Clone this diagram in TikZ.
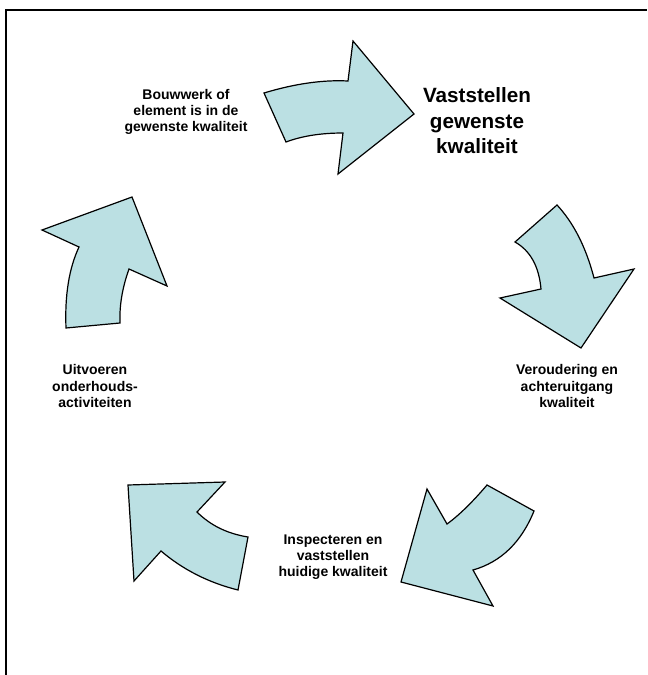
\documentclass[tikz,border=0pt]{standalone}
\usepackage{fontspec}
\setmainfont{Liberation Sans}
\usepackage{tikz}
\usetikzlibrary{positioning}
\definecolor{pijlblauw}{RGB}{187,224,227}
\tikzstyle{pijl}=[fill=pijlblauw, draw=black, line width=0.9pt, line join=miter]
\tikzstyle{tekst}=[align=center, inner sep=0pt, font=\bfseries\fontsize{10.5}{12.2}\selectfont]
\tikzstyle{kop}=[align=center, inner sep=0pt, font=\bfseries\fontsize{15.5}{19.2}\selectfont]

\begin{document}
\begin{tikzpicture}[x=0.75pt, y=-0.75pt]
      \useasboundingbox (0, 0) rectangle (647, 675);
      \draw [line width=1.2pt] (6, 675) -- (6, 10) -- (647, 10);

      % de vijf pijlen
      \draw [pijl] (264, 93) .. controls (294.7, 83.7) and (322.7, 79.7) .. (348, 81) -- (353, 41)
            -- (414, 114) -- (338, 174) -- (343, 133)
            .. controls (321, 133) and (302, 136) .. (286, 142) -- cycle;
      \draw [pijl] (515, 242) -- (557, 205) .. controls (573.7, 223) and (586, 247.3) .. (594, 278)
            -- (634, 269) -- (581, 348) -- (500, 298) -- (541, 289)
            .. controls (539, 266.3) and (530.3, 250.7) .. (515, 242) -- cycle;
      \draw [pijl] (487, 485) -- (534, 511) .. controls (521.3, 542.3) and (501, 562) .. (473, 570)
            -- (493, 606) -- (401, 582) -- (427, 489) -- (447, 524)
            .. controls (459, 515.3) and (472.3, 502.3) .. (487, 485) -- cycle;
      \draw [pijl] (128, 485) -- (225, 482) -- (197, 512)
            .. controls (210.3, 525.3) and (227.3, 533.7) .. (248, 537) -- (238, 590)
            .. controls (208.7, 582.7) and (183, 569.7) .. (161, 551) -- (134, 581) -- cycle;
      \draw [pijl] (132, 197) -- (167, 286) -- (129, 269)
            .. controls (122.3, 287.7) and (119.3, 305.7) .. (120, 323) -- (66, 328)
            .. controls (64.7, 295.3) and (69, 268.3) .. (79, 247) -- (42, 230) -- cycle;

      \draw node at (186, 112) [tekst] (bouwwerk) {Bouwwerk of\\element is in de\\gewenste kwaliteit};
      \draw node at (477, 121) [kop] (vaststellen) {Vaststellen\\gewenste\\kwaliteit};
      \draw node at (567, 386) [tekst] (veroudering) {Veroudering en\\achteruitgang\\kwaliteit};
      \draw node at (333, 557) [tekst] (inspecteren) {Inspecteren en\\vaststellen\\huidige kwaliteit};
      \draw node at (95, 386) [tekst] (uitvoeren) {Uitvoeren\\onderhouds-\\activiteiten};
\end{tikzpicture}
\end{document}
